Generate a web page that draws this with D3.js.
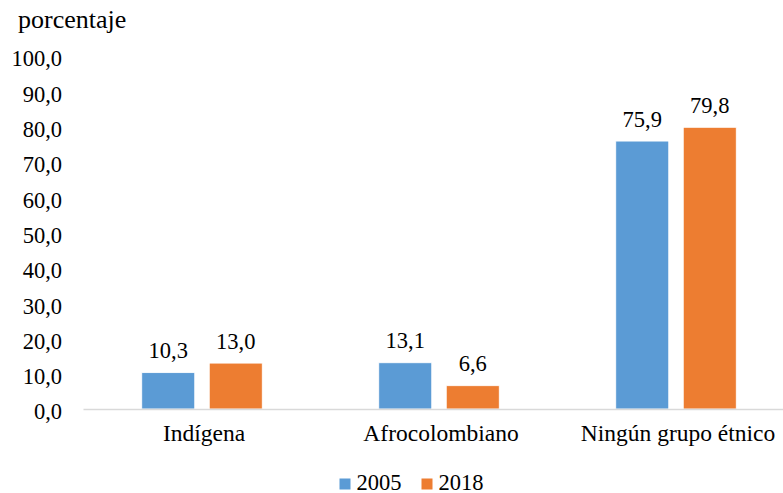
<!DOCTYPE html>
<html>
<head>
<meta charset="utf-8">
<script src="https://cdn.jsdelivr.net/npm/d3@7"></script>
<style>
  html, body { margin: 0; padding: 0; background: #fff; }
</style>
</head>
<body>
<svg id="chart" width="783" height="493" font-family="Liberation Serif"></svg>
<script>
const categories = ["Indígena", "Afrocolombiano", "Ningún grupo étnico"];
const seriesNames = ["2005", "2018"];
const values2005 = [10.3, 13.1, 75.9];
const values2018 = [13.0, 6.6, 79.8];
const yTicks = [0, 10, 20, 30, 40, 50, 60, 70, 80, 90, 100];
const colors = ["#5b9bd5", "#ed7d31"];
const yTitle = "porcentaje";

(function () {
const FONT = "Liberation Serif";
const fmt = v => v.toFixed(1).replace(".", ",");

const svg = d3.select("#chart");
const pLeft = 83.5, pRight = 794.5, pTop = 56, pBottom = 409;

const x0 = d3.scaleBand().domain(categories).range([pLeft, pRight])
  .paddingInner(0.4916).paddingOuter(0.2458);
const x1 = d3.scaleBand().domain(seriesNames).range([0, x0.bandwidth()])
  .paddingInner(0.215).paddingOuter(0);
const y = d3.scaleLinear().domain([0, 100]).range([pBottom, pTop]);

const data = categories.map((c, i) => ({
  cat: c,
  vals: [{s: "2005", v: values2005[i]}, {s: "2018", v: values2018[i]}]
}));

// y axis labels (no line)
const yAxis = d3.axisLeft(y).tickValues(yTicks).tickFormat(fmt).tickSize(0).tickPadding(0);
const yg = svg.append("g").attr("transform", "translate(62,0)").call(yAxis)
  .attr("font-family", FONT).attr("font-size", 22.5);
yg.select(".domain").remove();
yg.selectAll("text").attr("font-family", FONT).attr("font-size", 22.5)
  .attr("dy", "0.44em").attr("fill", "#000");

// bars
const groups = svg.append("g").selectAll("g").data(data).join("g")
  .attr("transform", d => `translate(${x0(d.cat)},0)`);
groups.selectAll("rect").data(d => d.vals).join("rect")
  .attr("x", d => x1(d.s))
  .attr("y", d => y(d.v))
  .attr("width", x1.bandwidth())
  .attr("height", d => y(0) - y(d.v))
  .attr("fill", (d, i) => colors[i])
  .attr("stroke", "#ffffff").attr("stroke-width", 0.8);
groups.selectAll("text.val").data(d => d.vals).join("text")
  .attr("class", "val")
  .attr("x", d => x1(d.s) + x1.bandwidth() / 2)
  .attr("y", d => y(d.v) - 14.5)
  .attr("text-anchor", "middle")
  .attr("fill", "#000")
  .attr("font-family", FONT).attr("font-size", 22.5)
  .text(d => fmt(d.v));

// x axis
const xAxis = d3.axisBottom(x0).tickSize(0).tickPadding(0);
const xg = svg.append("g").attr("transform", `translate(0,${pBottom})`).call(xAxis)
  .attr("font-family", FONT).attr("font-size", 23.5);
xg.select(".domain").attr("stroke", "#d9d9d9").attr("stroke-width", 1.3)
  .attr("d", `M${pLeft},0.5H${pRight}`);
xg.selectAll("text").attr("font-family", FONT).attr("font-size", 23.5)
  .attr("dy", null).attr("y", 32).attr("dx", 2).attr("fill", "#000");

// title
svg.append("text").attr("x", 18).attr("y", 28).attr("fill", "#000")
  .attr("font-family", FONT).attr("font-size", 26).text(yTitle);

// legend
const legendX = [339.5, 421.5];
const lg = svg.append("g").selectAll("g").data(seriesNames).join("g")
  .attr("transform", (d, i) => `translate(${legendX[i]},0)`);
lg.append("rect").attr("x", 0).attr("y", 478.5).attr("width", 11).attr("height", 11)
  .attr("fill", (d, i) => colors[i]);
lg.append("text").attr("x", 17).attr("y", 489.5).attr("fill", "#000")
  .attr("font-family", FONT).attr("font-size", 22.5).text(d => d);
})();
</script>
</body>
</html>
